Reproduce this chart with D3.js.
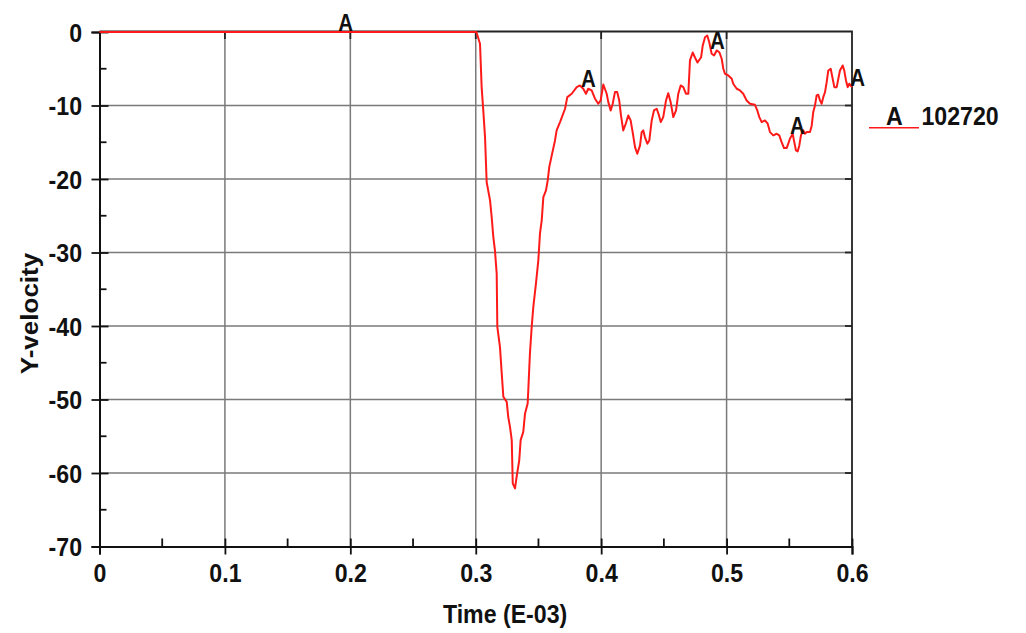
<!DOCTYPE html>
<html>
<head>
<meta charset="utf-8">
<script src="https://cdn.jsdelivr.net/npm/d3@7"></script>
<style>
  html, body { margin: 0; padding: 0; background: #fff; }
  svg { display: block; }
  text { font-family: "Liberation Sans", Arial, sans-serif; font-weight: bold; fill: #111; }
</style>
</head>
<body>
<svg id="chart" width="1026" height="633"></svg>
<script>
// ---- data ----
const xTickValues = [0, 0.1, 0.2, 0.3, 0.4, 0.5, 0.6];
const xTickLabels = ["0", "0.1", "0.2", "0.3", "0.4", "0.5", "0.6"];
const xMinorTicks = [0.05, 0.15, 0.25, 0.35, 0.45, 0.55];
const yTickValues = [0, -10, -20, -30, -40, -50, -60, -70];
const yTickLabels = ["0", "-10", "-20", "-30", "-40", "-50", "-60", "-70"];
const yMinorTicks = [-5, -15, -25, -35, -45, -55, -65];
const xTitle = "Time (E-03)";
const yTitle = "Y-velocity";
const seriesName = "102720";
const seriesSymbol = "A";
// [time (E-03), Y-velocity]
const yVelocity = [
  [0, 0], [0.3005, 0], [0.3034, -1.60], [0.3047, -7.50], [0.3060, -10.67], [0.3074, -14.30],
  [0.3087, -20.42], [0.3114, -22.90], [0.3127, -25.17], [0.3140, -27.89], [0.3153, -29.70],
  [0.3167, -32.87], [0.3172, -40.13], [0.3193, -42.84], [0.3207, -46.41], [0.3220, -49.63],
  [0.3247, -50.32], [0.3259, -52.36], [0.3273, -53.72], [0.3287, -55.53], [0.3295, -61.41],
  [0.3313, -62.09], [0.3326, -60.51], [0.3347, -58.24], [0.3358, -55.53], [0.3379, -54.40],
  [0.3393, -51.90], [0.3414, -50.54], [0.3419, -48.73], [0.3432, -43.74], [0.3446, -40.13],
  [0.3459, -37.41], [0.3480, -34.23], [0.3499, -31.06], [0.3512, -27.43], [0.3526, -25.62],
  [0.3539, -22.46], [0.3560, -21.54], [0.3574, -20.18], [0.3586, -18.38], [0.3606, -16.79],
  [0.3632, -14.75], [0.3645, -13.39], [0.3672, -12.26], [0.3712, -10.44], [0.3730, -8.86],
  [0.3765, -8.40], [0.3805, -7.50], [0.3831, -7.27], [0.3857, -7.72], [0.3879, -8.40],
  [0.3897, -7.72], [0.3924, -7.95], [0.3951, -9.08], [0.3977, -9.76], [0.3996, -9.31],
  [0.4017, -7.14], [0.4044, -8.40], [0.4057, -9.54], [0.4076, -10.67], [0.4092, -9.76],
  [0.4110, -8.18], [0.4128, -8.18], [0.4144, -9.31], [0.4158, -11.35], [0.4176, -13.39],
  [0.4196, -12.48], [0.4216, -11.35], [0.4235, -12.03], [0.4251, -13.62], [0.4270, -15.66],
  [0.4288, -16.56], [0.4310, -15.43], [0.4323, -13.62], [0.4336, -13.39], [0.4349, -14.30],
  [0.4368, -15.20], [0.4384, -14.75], [0.4403, -12.03], [0.4421, -10.67], [0.4443, -10.44],
  [0.4461, -11.35], [0.4475, -12.26], [0.4495, -11.58], [0.4517, -9.31], [0.4535, -8.32],
  [0.4554, -9.54], [0.4575, -11.58], [0.4597, -10.67], [0.4615, -8.40], [0.4634, -7.27],
  [0.4655, -7.50], [0.4676, -8.40], [0.4695, -8.40], [0.4708, -3.87], [0.4730, -2.79],
  [0.4748, -3.47], [0.4768, -4.15], [0.4797, -3.43], [0.4810, -1.83], [0.4828, -0.71],
  [0.4846, -0.48], [0.4862, -1.39], [0.4881, -2.96], [0.4900, -3.19], [0.4921, -2.51],
  [0.4942, -2.75], [0.4961, -3.64], [0.4974, -5.00], [0.4987, -5.68], [0.5014, -5.91],
  [0.5041, -6.36], [0.5053, -7.04], [0.5081, -7.72], [0.5107, -7.95], [0.5133, -8.40],
  [0.5160, -9.31], [0.5187, -9.76], [0.5226, -9.90], [0.5245, -10.67], [0.5261, -11.58],
  [0.5280, -12.26], [0.5306, -12.03], [0.5328, -12.48], [0.5346, -13.62], [0.5372, -14.07],
  [0.5400, -13.84], [0.5420, -14.07], [0.5439, -14.98], [0.5458, -15.79], [0.5479, -15.79],
  [0.5492, -15.20], [0.5505, -14.52], [0.5527, -13.84], [0.5537, -14.75], [0.5553, -16.11],
  [0.5567, -16.24], [0.5580, -15.43], [0.5593, -14.07], [0.5612, -13.39], [0.5625, -13.84],
  [0.5639, -13.62], [0.5665, -13.62], [0.5679, -12.71], [0.5691, -10.90], [0.5705, -9.99],
  [0.5718, -8.63], [0.5731, -8.54], [0.5745, -9.31], [0.5758, -9.76], [0.5771, -8.86],
  [0.5785, -8.18], [0.5798, -6.82], [0.5811, -5.23], [0.5830, -5.00], [0.5846, -6.36],
  [0.5859, -7.50], [0.5878, -7.50], [0.5891, -6.36], [0.5904, -5.23], [0.5926, -4.55],
  [0.5938, -5.23], [0.5952, -6.59], [0.5966, -7.50], [0.5978, -7.04], [0.6000, -7.50]
];
// curve symbol ("A") label anchor points [time, velocity]
const symbolPoints = [[0.1917, 0], [0.3853, -7.72], [0.4881, -2.5], [0.5519, -14.07], [0.6, -7.5]];

// ---- drawing ----
const svg = d3.select("#chart");
const x = d3.scaleLinear().domain([0, 0.6]).range([99.5, 852]);
const y = d3.scaleLinear().domain([-70, 0]).range([546.5, 32]);
const SX = 0.89; // horizontal glyph compression of the original

// grid
const grid = svg.append("g").attr("stroke", "#7a7a7a").attr("stroke-width", 1.5);
grid.selectAll("line.v").data(xTickValues.slice(1, -1)).join("line")
  .attr("x1", d => x(d)).attr("x2", d => x(d)).attr("y1", y(0)).attr("y2", y(-70));
grid.selectAll("line.h").data(yTickValues.slice(1, -1)).join("line")
  .attr("x1", x(0)).attr("x2", x(0.6)).attr("y1", d => y(d)).attr("y2", d => y(d));

// frame (top / right)
svg.append("path")
  .attr("d", `M${x(0)},${y(0) - 0.5}H${x(0.6)}V${y(-70)}`)
  .attr("fill", "none").attr("stroke", "#222").attr("stroke-width", 1.8);
// mirrored major ticks on top and right
svg.append("g").selectAll("line").data(xTickValues.slice(1, -1)).join("line")
  .attr("x1", d => x(d)).attr("x2", d => x(d)).attr("y1", y(0)).attr("y2", y(0) + 7)
  .attr("stroke", "#222").attr("stroke-width", 1.8);
svg.append("g").selectAll("line").data(yTickValues.slice(1, -1)).join("line")
  .attr("x1", x(0.6) - 7).attr("x2", x(0.6)).attr("y1", d => y(d)).attr("y2", d => y(d))
  .attr("stroke", "#222").attr("stroke-width", 1.8);

// bottom axis
const xAxis = svg.append("g").attr("transform", `translate(0,${y(-70)})`)
  .call(d3.axisBottom(x).tickValues(xTickValues).tickFormat((d, i) => xTickLabels[i]).tickSizeOuter(0).tickSize(8));
xAxis.select(".domain").attr("stroke", "#111").attr("stroke-width", 2);
xAxis.selectAll(".tick line").attr("y1", -8).attr("y2", 8).attr("stroke", "#111").attr("stroke-width", 1.8);
xAxis.selectAll(".tick text").attr("y", 35.5).attr("dy", 0)
  .attr("font-size", 26).attr("transform", `scale(${SX},1)`).style("fill", "#111");
xAxis.attr("font-family", null);
xAxis.append("g").selectAll("line").data(xMinorTicks).join("line")
  .attr("x1", d => x(d)).attr("x2", d => x(d)).attr("y1", 0).attr("y2", -8)
  .attr("stroke", "#111").attr("stroke-width", 1.8);

// left axis
const yAxis = svg.append("g").attr("transform", `translate(${x(0)},0)`)
  .call(d3.axisLeft(y).tickValues(yTickValues).tickFormat((d, i) => yTickLabels[i]).tickSizeOuter(0).tickSize(8));
yAxis.select(".domain").attr("stroke", "#111").attr("stroke-width", 2);
yAxis.selectAll(".tick line").attr("x1", -8).attr("x2", 9).attr("stroke", "#111").attr("stroke-width", 1.8);
yAxis.selectAll(".tick text").attr("x", -19.6).attr("dy", "0.36em")
  .attr("font-size", 26).attr("transform", `scale(${SX},1)`).style("fill", "#111");
yAxis.attr("font-family", null);
yAxis.append("g").selectAll("line").data(yMinorTicks).join("line")
  .attr("x1", 0).attr("x2", 7).attr("y1", d => y(d)).attr("y2", d => y(d))
  .attr("stroke", "#111").attr("stroke-width", 1.8);

// curve
const line = d3.line().x(d => x(d[0])).y(d => y(d[1]));
svg.append("path").datum(yVelocity)
  .attr("d", line).attr("fill", "none").attr("stroke", "#ff1a1a")
  .attr("stroke-width", 2).attr("stroke-linejoin", "round");

// curve symbols
svg.append("g").selectAll("g").data(symbolPoints).join("g")
  .attr("transform", d => `translate(${x(d[0])},${y(d[1]) - 1.5}) scale(${SX},1)`)
  .append("text").attr("font-size", 23).attr("x", -2).text(seriesSymbol);

// axis titles
svg.append("g").attr("transform", `translate(${(x(0.3) + x(0.35)) / 2 - 2},623) scale(${SX},1)`)
  .append("text").attr("text-anchor", "middle").attr("font-size", 26).text(xTitle);
svg.append("g").attr("transform", `translate(38,313.5) rotate(-90) scale(1,${SX})`)
  .append("text").attr("text-anchor", "middle").attr("font-size", 26).text(yTitle);

// legend
svg.append("line").attr("x1", 869).attr("x2", 919).attr("y1", 127.7).attr("y2", 127.7)
  .attr("stroke", "#ff1a1a").attr("stroke-width", 1.6);
svg.append("g").attr("transform", `translate(886,125) scale(${SX},1)`)
  .append("text").attr("font-size", 26).text(seriesSymbol);
svg.append("g").attr("transform", `translate(921.5,125) scale(${SX},1)`)
  .append("text").attr("font-size", 26).text(seriesName);
</script>
</body>
</html>
